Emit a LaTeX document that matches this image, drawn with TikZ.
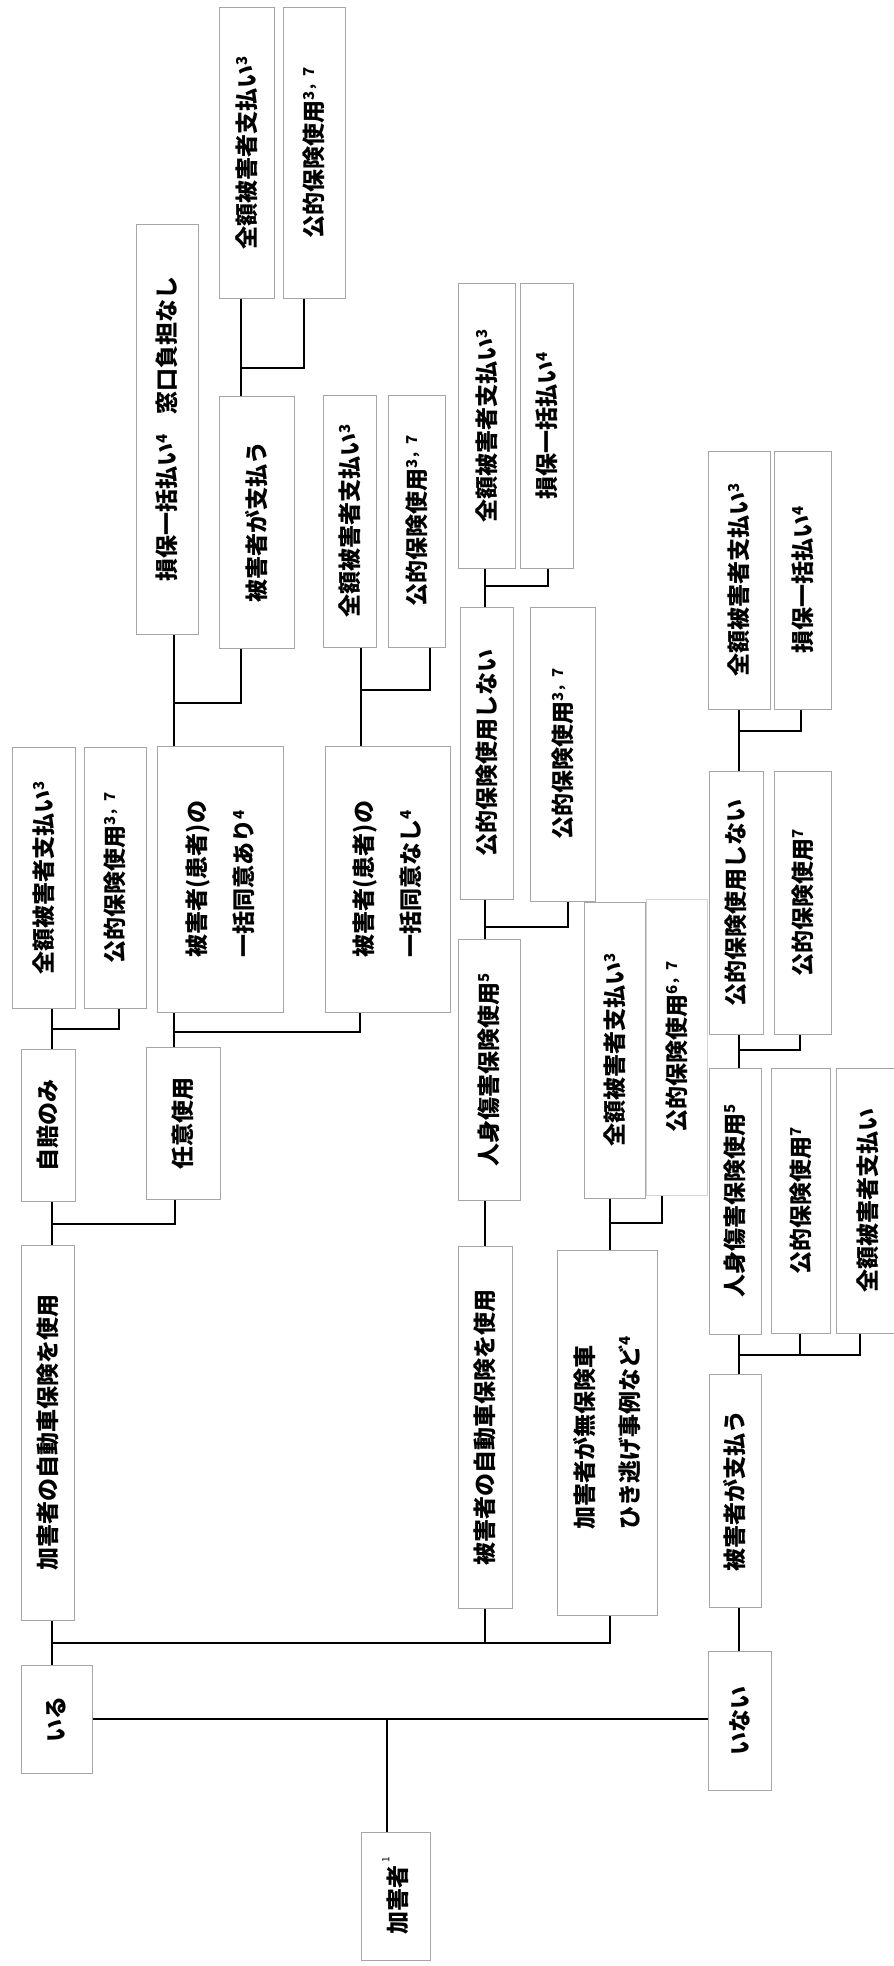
\documentclass[tikz,border=0pt]{standalone}
\usepackage{fontspec}
\setmainfont{Noto Sans CJK JP}
\definecolor{edge}{HTML}{A6A6A6}
\definecolor{edgelight}{HTML}{D4D4D4}
\newcommand{\supnum}[1]{\raisebox{8pt}{\fontsize{15pt}{15pt}\selectfont #1}}

\begin{document}
\begin{tikzpicture}[x=1pt, y=-1pt,
  rbox/.style 2 args={draw=edge, line width=1pt, fill=white, rotate=90,
              minimum width=#1, minimum height=#2, inner sep=2pt, align=left,
              font=\bfseries\fontsize{23pt}{27pt}\selectfont},
  wire/.style={line width=2pt},
  trunk/.style={line width=2.8pt},
]
\useasboundingbox (0,0) rectangle (894,1966);
\clip (0,0) rectangle (894,1966);

\node[rbox={128pt}{69pt}] (kagai) at (395.5,1896) {加害者\hspace{3pt}\raisebox{17pt}{\fontsize{10pt}{10pt}\selectfont\mdseries 1}};
\node[rbox={108pt}{71pt}] (iru) at (56.5,1719) {いる};
\node[rbox={139pt}{63pt}] (inai) at (739.5,1720.5) {いない};

\node[rbox={375pt}{53pt}] (kjd) at (47.5,1432.5) {加害者の自動車保険を使用};
\node[rbox={362pt}{54pt}] (hjd) at (485,1427) {被害者の自動車保険を使用};
\node[rbox={365pt}{100pt}] (muho) at (607,1432.5) {加害者が無保険車\\[18pt]ひき逃げ事例など\supnum{4}};
\node[rbox={233pt}{52pt}] (hpay2) at (735,1490.5) {被害者が支払う};

\node[rbox={152pt}{54pt}] (jibai) at (48,1125) {自賠のみ};
\node[rbox={152pt}{74pt}] (nini) at (183,1123) {任意使用};

\node[rbox={261pt}{63pt}] (zen1) at (43.5,877.5) {全額被害者支払い\supnum{3}};
\node[rbox={261pt}{62pt}] (kou1) at (115,877.5) {公的保険使用\supnum{3，7}};
\node[rbox={266pt}{126pt}] (ari) at (220,879) {被害者(患者)の\\[20pt]一括同意あり\supnum{4}};
\node[rbox={266pt}{125pt}] (nashi) at (387.5,879) {被害者(患者)の\\[20pt]一括同意なし\supnum{4}};

\node[rbox={410pt}{62pt}] (sonpo1) at (167,429) {損保一括払い\supnum{4}\hspace{20pt}窓口負担なし};
\node[rbox={252pt}{75pt}] (hpay1) at (256.5,522) {被害者が支払う};
\node[rbox={291pt}{55pt}] (zen2) at (246.5,152.5) {全額被害者支払い\supnum{3}};
\node[rbox={291pt}{62pt}] (kou2) at (314,152.5) {公的保険使用\supnum{3，7}};
\node[rbox={252pt}{53pt}] (zen3) at (349.5,521) {全額被害者支払い\supnum{3}};
\node[rbox={252pt}{57pt}] (kou3) at (416.5,521) {公的保険使用\supnum{3，7}};

\node[rbox={261pt}{62pt}] (jinsin1) at (489,1069.5) {人身傷害保険使用\supnum{5}};
\node[rbox={292pt}{53pt}] (kshinai1) at (486.5,753) {公的保険使用しない};
\node[rbox={294pt}{65pt}] (kou4) at (562.5,754) {公的保険使用\supnum{3，7}};
\node[rbox={285pt}{57pt}] (zen4) at (486.5,425.5) {全額被害者支払い\supnum{3}};
\node[rbox={285pt}{53pt}] (sonpo2) at (546.5,425.5) {損保一括払い\supnum{4}};

\node[rbox={296pt}{61pt}] (zen5) at (614.5,1050) {全額被害者支払い\supnum{3}};
\node[rbox={296pt}{61pt}, draw=edgelight] (kou5) at (676.5,1047) {公的保険使用\supnum{6，7}};

\node[rbox={266pt}{52pt}] (jinsin2) at (735,1201) {人身傷害保険使用\supnum{5}};
\node[rbox={265pt}{59pt}] (kou6) at (800.5,1200.5) {公的保険使用\supnum{7}};
\node[rbox={265pt}{64pt}] (zen6) at (868,1200.5) {全額被害者支払い};
\node[rbox={263pt}{54pt}] (kshinai2) at (736,902.5) {公的保険使用しない};
\node[rbox={263pt}{57pt}] (kou7) at (802.5,902.5) {公的保険使用\supnum{7}};
\node[rbox={258pt}{62pt}] (zen7) at (739,580) {全額被害者支払い\supnum{3}};
\node[rbox={258pt}{57pt}] (sonpo3) at (802.5,580) {損保一括払い\supnum{4}};

\draw[trunk] (iru.south) -- (iru.south -| inai.north);
\draw[wire] (kagai.east -| 387,0) -- (iru.south -| 387,0);
\draw[trunk] (iru.east -| 52,0) -- (kjd.west -| 52,0);
\draw[wire] (iru.east -| 52,0) ++(0,-22) -| (muho.west -| 610,0);
\draw[wire] (hjd.west) -- ++(0,35);
\draw[trunk] (inai.east -| 739,0) -- (hpay2.west -| 739,0);

\draw[trunk] (kjd.east -| 52,0) -- (jibai.west -| 52,0);
\draw[wire] (jibai.west -| 52,0) ++(0,22) -| (nini.west -| 175,0);
\draw[trunk] (jibai.east -| 52,0) -- (zen1.west -| 52,0);
\draw[wire] (zen1.west -| 52,0) ++(0,20) -| (kou1.west -| 119,0);
\draw[trunk] (nini.east -| 174,0) -- (ari.west -| 174,0);
\draw[wire] (ari.west -| 174,0) ++(0,19) -| (nashi.west -| 360,0);

\draw[trunk] (ari.east -| 174,0) -- (sonpo1.west -| 174,0);
\draw[wire] (ari.east -| 174,0) ++(0,-43) -| (hpay1.west -| 241,0);
\draw[wire] (hpay1.east -| 241,0) -- (zen2.west -| 241,0);
\draw[wire] (hpay1.east -| 241,0) ++(0,-28) -| (kou2.west -| 304,0);
\draw[wire] (nashi.east -| 361,0) -- (zen3.west -| 361,0);
\draw[wire] (nashi.east -| 361,0) ++(0,-56) -| (kou3.west -| 430,0);

\draw[wire] (hjd.east) -- (jinsin1.west -| hjd.east);
\draw[wire] (jinsin1.east -| 485,0) -- (kshinai1.west -| 485,0);
\draw[wire] (jinsin1.east -| 485,0) ++(0,-12) -| (kou4.west -| 568,0);
\draw[wire] (kshinai1.east -| 485,0) -- (zen4.west -| 485,0);
\draw[wire] (kshinai1.east -| 485,0) ++(0,-21) -| (sonpo2.west -| 548,0);

\draw[wire] (muho.east -| 610,0) -- (zen5.west -| 610,0);
\draw[wire] (muho.east -| 610,0) ++(0,-27) -| (kou5.west -| 662,0);

\draw[trunk] (hpay2.east -| 739,0) -- (jinsin2.west -| 739,0);
\draw[wire] (hpay2.east -| 739,0) ++(0,-19) -| (zen6.west -| 860,0);
\draw[wire] (kou6.west -| 800,0) -- ++(0,22);
\draw[trunk] (jinsin2.east -| 739,0) -- (kshinai2.west -| 739,0);
\draw[wire] (jinsin2.east -| 739,0) ++(0,-18) -| (kou7.west -| 800,0);
\draw[trunk] (kshinai2.east -| 739,0) -- (zen7.west -| 739,0);
\draw[wire] (kshinai2.east -| 739,0) ++(0,-40) -| (sonpo3.west -| 801,0);
\end{tikzpicture}
\end{document}
